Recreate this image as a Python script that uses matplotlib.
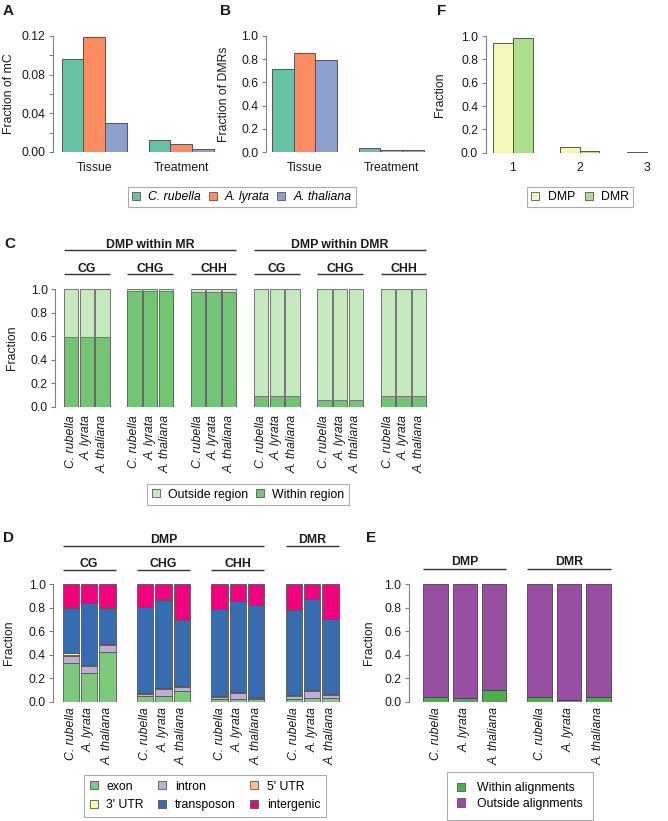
import matplotlib
matplotlib.use("Agg")
import matplotlib.pyplot as plt
from matplotlib.patches import Patch
from matplotlib.transforms import blended_transform_factory

plt.rcParams["font.family"] = ["Liberation Sans", "DejaVu Sans"]

W, H = 668, 821
FS = 8.8
GRAY = "#808080"
EDGE = "#555555"
TXT = "#1a1a1a"

# ---------------- data ----------------
species = ["C. rubella", "A. lyrata", "A. thaliana"]
set2 = ["#66C2A5", "#FC8D62", "#8DA0CB"]

# A: fraction of mC
a_groups = ["Tissue", "Treatment"]
a_tissue = [0.0958, 0.1187, 0.0299]
a_treatment = [0.0120, 0.0078, 0.0026]
a_ticks = [0.0, 0.04, 0.08, 0.12]
a_ticklabels = ["0.00", "0.04", "0.08", "0.12"]

# B: fraction of DMRs
b_tissue = [0.711, 0.854, 0.788]
b_treatment = [0.035, 0.020, 0.020]

# F
f_groups = ["1", "2", "3"]
f_dmp = [0.943, 0.049, 0.002]
f_dmr = [0.985, 0.015, 0.001]

frac_ticks = [0.0, 0.2, 0.4, 0.6, 0.8, 1.0]
frac_ticklabels = ["0.0", "0.2", "0.4", "0.6", "0.8", "1.0"]

# C
c_top = ["DMP within MR", "DMP within DMR"]
c_sub = ["CG", "CHG", "CHH", "CG", "CHG", "CHH"]
c_within = [0.59, 0.59, 0.59, 0.988, 0.988, 0.988, 0.98, 0.98, 0.98,
            0.091, 0.091, 0.091, 0.057, 0.057, 0.057, 0.095, 0.095, 0.095]
c_outside = [0.41, 0.41, 0.41, 0.012, 0.012, 0.012, 0.02, 0.02, 0.02,
             0.909, 0.909, 0.909, 0.943, 0.943, 0.943, 0.905, 0.905, 0.905]

# D (bottom to top)
d_sub = ["CG", "CHG", "CHH"]
d_cats = ["exon", "intron", "5' UTR", "3' UTR", "transposon", "intergenic"]
d_colors = ["#7FC97F", "#BEAED4", "#FDC086", "#FFFF99", "#386CB0", "#F0027F"]
d_exon = [0.327, 0.242, 0.425, 0.048, 0.048, 0.091, 0.020, 0.020, 0.020, 0.020, 0.029, 0.030]
d_intron = [0.065, 0.060, 0.055, 0.020, 0.064, 0.033, 0.023, 0.057, 0.014, 0.028, 0.065, 0.027]
d_utr5 = [0.008, 0.005, 0.006, 0.003, 0.003, 0.004, 0.003, 0.003, 0.002, 0.003, 0.003, 0.005]
d_utr3 = [0.012, 0.005, 0.004, 0.002, 0.002, 0.002, 0.002, 0.002, 0.002, 0.002, 0.002, 0.003]
d_te = [0.383, 0.526, 0.305, 0.737, 0.747, 0.570, 0.739, 0.773, 0.786, 0.727, 0.778, 0.640]
d_inter = [0.205, 0.162, 0.205, 0.190, 0.136, 0.300, 0.213, 0.145, 0.176, 0.220, 0.123, 0.295]

# E
e_groups = ["DMP", "DMR"]
e_within = [0.043, 0.029, 0.100, 0.037, 0.013, 0.040]
e_outside = [0.957, 0.971, 0.900, 0.963, 0.987, 0.960]

fig = plt.figure(figsize=(W / 100, H / 100), dpi=100)


def fy(py):
    return 1 - py / H


def make_ax(axis_px, first_px, u, xmax, top_px, bot_px, ylim,
            ticks=frac_ticks, ticklabels=frac_ticklabels):
    xmin = -(first_px - axis_px) / u
    wpx = (xmax - xmin) * u
    ax = fig.add_axes([axis_px / W, fy(bot_px), wpx / W, (bot_px - top_px) / H])
    for s in ["top", "right", "bottom"]:
        ax.spines[s].set_visible(False)
    ax.spines["left"].set_color(GRAY)
    ax.spines["left"].set_linewidth(0.8)
    ax.tick_params(axis="y", which="both", length=3, width=0.8, color=GRAY,
                   pad=2.5, labelsize=FS, labelcolor=TXT)
    ax.tick_params(axis="x", length=0, labelsize=FS, labelcolor=TXT)
    ax.set_yticks(ticks)
    ax.set_yticklabels(ticklabels)
    ax.set_xlim(xmin, xmax)
    ax.set_ylim(*ylim)
    return ax


def set_ylabel(ax, text, right_px, axis_px):
    wpx = ax.get_position().width * W
    ax.set_ylabel(text, fontsize=FS, color=TXT)
    ax.yaxis.set_label_coords((right_px - axis_px) / wpx, 0.5)


def header(ax, x0, x1, text, base_px, line_px):
    tr = blended_transform_factory(ax.transData, fig.transFigure)
    ax.plot([x0, x1], [fy(line_px)] * 2, transform=tr, clip_on=False,
            color="#333333", lw=1.0, solid_capstyle="butt")
    ax.text((x0 + x1) / 2, fy(base_px), text, transform=tr, ha="center",
            va="baseline", fontsize=FS, fontweight="bold", color=TXT)


def species_ticks(ax, centers, pad):
    ax.set_xticks(centers)
    ax.set_xticklabels(species * (len(centers) // 3), rotation=90,
                       fontstyle="italic", fontsize=FS, color=TXT)
    ax.tick_params(axis="x", pad=pad)


def panel_label(text, x, base):
    fig.text(x / W, fy(base), text, fontsize=11, fontweight="bold",
             va="baseline", ha="left", color=TXT)


def legend(handles, labels, cx, cy, ncol, italic=False, textpad=0.7, **kw):
    prop = {"size": FS}
    if italic:
        prop["style"] = "italic"
    lg = fig.legend(handles, labels, loc="center",
                    bbox_to_anchor=(cx / W, fy(cy)), ncol=ncol, prop=prop,
                    frameon=True, fancybox=False, handlelength=0.65,
                    handleheight=0.65, handletextpad=textpad, borderaxespad=0,
                    **kw)
    lg.get_frame().set_edgecolor("#999999")
    lg.get_frame().set_linewidth(0.8)
    return lg


def patch(c):
    return Patch(facecolor=c, edgecolor=EDGE, linewidth=0.6)


# ---------------- A ----------------
ax = make_ax(53.3, 61.7, 21.7, 7.3, 36, 152, (0, 0.12), a_ticks, a_ticklabels)
for j in range(3):
    ax.bar([0 * 4 + j, 1 * 4 + j], [a_tissue[j], a_treatment[j]], width=1,
           align="edge", color=set2[j], edgecolor=EDGE, linewidth=0.7)
ax.set_yticks([0.02, 0.06, 0.10], minor=True)
ax.set_xticks([g * 4 + 1.5 for g in range(2)])
ax.set_xticklabels(a_groups)
ax.tick_params(axis="x", pad=7)
ax.set_ylim(0, 0.12)
set_ylabel(ax, "Fraction of mC", 15, 53.3)
panel_label("A", 3, 15)

# ---------------- B ----------------
ax = make_ax(266, 272, 21.7, 7.3, 35.7, 152.3, (0, 1))
for j in range(3):
    ax.bar([0 * 4 + j, 1 * 4 + j], [b_tissue[j], b_treatment[j]], width=1,
           align="edge", color=set2[j], edgecolor=EDGE, linewidth=0.7)
ax.set_xticks([g * 4 + 1.5 for g in range(2)])
ax.set_xticklabels(a_groups)
ax.tick_params(axis="x", pad=7)
set_ylabel(ax, "Fraction of DMRs", 230, 266)
panel_label("B", 220, 15)

legend([patch(c) for c in set2], species, 242, 197, 3, italic=True,
       columnspacing=0.6, borderpad=0.35)

# ---------------- F ----------------
fgp = 3.39
ax = make_ax(485.7, 493.3, 19.7, 2 * fgp + 2, 36, 152.7, (0, 1))
ax.bar([g * fgp for g in range(3)], f_dmp, width=1, align="edge",
       color="#F4F6BC", edgecolor=EDGE, linewidth=0.7)
ax.bar([g * fgp + 1 for g in range(3)], f_dmr, width=1, align="edge",
       color="#ADDD8E", edgecolor=EDGE, linewidth=0.7)
ax.set_xticks([g * fgp + 1 for g in range(3)])
ax.set_xticklabels(f_groups)
ax.tick_params(axis="x", pad=7)
set_ylabel(ax, "Fraction", 446, 485.7)
panel_label("F", 437, 15)
legend([patch("#F4F6BC"), patch("#ADDD8E")], ["DMP", "DMR"], 580, 197, 2,
       columnspacing=0.8, borderpad=0.35)

# ---------------- C ----------------
cgp, cbp = 4.43, 1.1
c_left = [g * cgp + j * cbp for g in range(6) for j in range(3)]
ax = make_ax(55.4, 63.9, 14.3, 5 * cgp + 2 * cbp + 1.2, 289.3, 406.7, (0, 1))
ax.bar(c_left, c_within, width=1, align="edge", color="#74C476",
       edgecolor="#666666", linewidth=0.7)
ax.bar(c_left, c_outside, bottom=c_within, width=1, align="edge",
       color="#C7E9C0", edgecolor="#777777", linewidth=0.7)
species_ticks(ax, [x + 0.5 for x in c_left], 6)
set_ylabel(ax, "Fraction", 18, 55.4)
for k, t in enumerate(c_top):
    header(ax, 3 * k * cgp, (3 * k + 2) * cgp + 2 * cbp + 1, t, 248, 250)
for g, t in enumerate(c_sub):
    header(ax, g * cgp, g * cgp + 2 * cbp + 1, t, 271.5, 273.5)
panel_label("C", 4, 248)
legend([patch("#C7E9C0"), patch("#74C476")], ["Outside region", "Within region"],
       248, 494.5, 2, columnspacing=0.6, borderpad=0.35)

# ---------------- D ----------------
dgp, dbp = 4.59, 1.13
d_left = [g * dgp + j * dbp for g in range(4) for j in range(3)]
ax = make_ax(53.3, 62.7, 16.2, 3 * dgp + 2 * dbp + 1.2, 584.3, 701.7, (0, 1))
bottom = [0.0] * 12
for vals, col in zip([d_exon, d_intron, d_utr5, d_utr3, d_te, d_inter], d_colors):
    ax.bar(d_left, vals, bottom=bottom, width=1, align="edge", color=col,
           edgecolor="#555555", linewidth=0.6)
    bottom = [b + v for b, v in zip(bottom, vals)]
species_ticks(ax, [x + 0.5 for x in d_left], 4)
set_ylabel(ax, "Fraction", 15, 53.3)
header(ax, 0, 2 * dgp + 2 * dbp + 1, "DMP", 543, 546)
header(ax, 3 * dgp, 3 * dgp + 2 * dbp + 1, "DMR", 543, 546)
for g, t in enumerate(d_sub):
    header(ax, g * dgp, g * dgp + 2 * dbp + 1, t, 567, 570)
panel_label("D", 3, 542)
# legend is filled column by column; order it so rows read as in the figure
order = [0, 3, 1, 4, 2, 5]
legend([patch(d_colors[i]) for i in order], [d_cats[i] for i in order],
       205, 796, 3, columnspacing=1.2, borderpad=0.5, labelspacing=0.55)

# ---------------- E ----------------
egp, ebp = 4.23, 1.19
e_left = [g * egp + j * ebp for g in range(2) for j in range(3)]
ax = make_ax(409, 423.3, 24.6, egp + 2 * ebp + 1.15, 584.3, 701.7, (0, 1))
ax.bar(e_left, e_within, width=1, align="edge", color="#4DAF4A",
       edgecolor="#444444", linewidth=0.6)
ax.bar(e_left, e_outside, bottom=e_within, width=1, align="edge",
       color="#984EA3", edgecolor="#444444", linewidth=0.6)
species_ticks(ax, [x + 0.5 for x in e_left], 4)
set_ylabel(ax, "Fraction", 375, 409)
for g, t in enumerate(e_groups):
    header(ax, g * egp, g * egp + 2 * ebp + 1, t, 565, 568.5)
panel_label("E", 366, 542)
legend([patch("#4DAF4A"), patch("#984EA3")],
       ["Within alignments", "Outside alignments"], 520, 796, 1,
       textpad=1.0, borderpad=0.8, labelspacing=0.3)

fig.savefig("out.png", dpi=100)
